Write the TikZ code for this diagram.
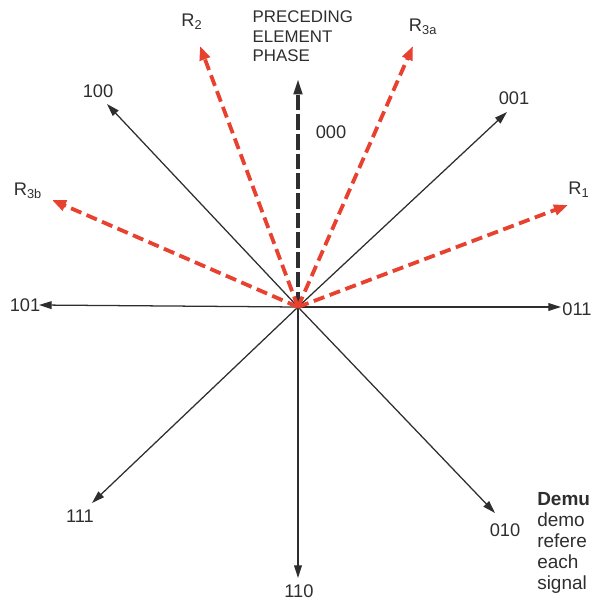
\documentclass[tikz,border=0pt]{standalone}
\usepackage{fontspec}
\setmainfont{Liberation Sans}
\usetikzlibrary{arrows.meta}
\begin{document}
\begin{tikzpicture}[x=0.025cm,y=-0.025cm,line join=round,
  phasor/.style={draw=ink,line width=.9pt,-{Triangle[length=9pt,width=5.5pt]}},
  refdash/.style={draw=redline,line width=2.7pt,dash pattern=on 8pt off 4pt,-{Triangle[length=10pt,width=7.5pt]}},
  lbl/.style={font=\fontsize{13}{14}\selectfont,text=ink,inner sep=1pt}]
\definecolor{ink}{HTML}{2E2E2E}
\definecolor{redline}{HTML}{E8412F}
\useasboundingbox (0,0) rectangle (592,600);
\coordinate (O) at (298,307);
% code words
\coordinate (t000) at (298,79);
\coordinate (t100) at (107,104);
\coordinate (t001) at (507,112);
\coordinate (t101) at (39,305);
\coordinate (t011) at (561,307);
\coordinate (t111) at (92,503);
\coordinate (t110) at (298,578);
\coordinate (t010) at (495,513);
\node[lbl] (l000) at (331,132) {000};
\node[lbl] (l100) at (98,91) {100};
\node[lbl] (l001) at (514,98) {001};
\node[lbl] (l101) at (25,305) {101};
\node[lbl] (l011) at (577,309) {011};
\node[lbl] (l111) at (80,516) {111};
\node[lbl] (l110) at (299,591) {110};
\node[lbl] (l010) at (505,530) {010};
\draw[phasor] (O) -- (t100);
\draw[phasor] (O) -- (t001);
\draw[phasor] (O) -- (t101);
\draw[phasor] (O) -- (t011);
\draw[phasor] (O) -- (t111);
\draw[phasor] (O) -- (t110);
\draw[phasor] (O) -- (t010);
\draw[refdash,draw=ink,line width=2.3pt,dash pattern=on 11pt off 3pt,-{Triangle[length=11pt,width=6pt]}] (O) -- (t000);
% reference phases
\coordinate (tR1) at (568,205);
\coordinate (tR2) at (200,46);
\coordinate (tR3a) at (413,46);
\coordinate (tR3b) at (52,200);
\node[lbl] (lR1) at (579,190) {R\textsubscript{1}};
\node[lbl] (lR2) at (192,22) {R\textsubscript{2}};
\node[lbl] (lR3a) at (423,27) {R\textsubscript{3a}};
\node[lbl] (lR3b) at (28,191) {R\textsubscript{3b}};
\draw[refdash] (O) -- (tR1);
\draw[refdash] (O) -- (tR2);
\draw[refdash] (O) -- (tR3a);
\draw[refdash] (O) -- (tR3b);
\node[lbl,anchor=north west,align=left,font=\fontsize{12}{14}\selectfont] (prev) at (251,9) {PRECEDING\\ELEMENT\\PHASE};
% caption, cut at the edge
\node[lbl,anchor=north west,inner sep=0pt,align=left,font=\fontsize{13.5}{15}\selectfont] (cap) at (537,492)
  {\textbf{Demu}\\demo\\refere\\each\\signal};
\end{tikzpicture}
\end{document}
